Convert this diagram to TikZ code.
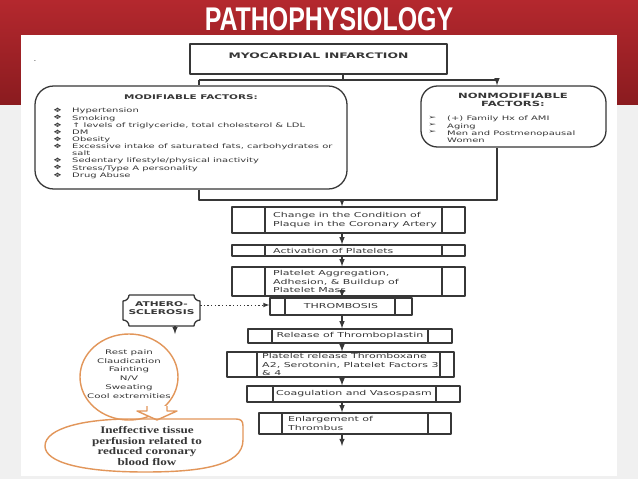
\documentclass[tikz,border=0pt]{standalone}
\usepackage{fontspec}
\setmainfont{DejaVu Sans}
\newfontfamily\txtfont[FakeStretch=1.62]{DejaVu Sans}
\newfontfamily\serfont[FakeStretch=1.3]{Liberation Serif}
\newfontfamily\ttlfont[FakeStretch=0.76]{Liberation Sans}
\usetikzlibrary{arrows,positioning,calc,fit}
\definecolor{slidered}{RGB}{180,40,46}
\definecolor{slidedark}{RGB}{138,27,31}
\definecolor{linegray}{RGB}{55,55,55}
\definecolor{peach}{RGB}{226,150,90}
\definecolor{panelgray}{RGB}{240,240,240}
\tikzset{
  box/.style={draw=linegray, line width=1.1pt},
  procbox/.style={box, inner sep=0pt},
  arr/.style={draw=linegray, line width=1.1pt, -latex},
  boxtext/.style={font=\txtfont\fontsize{5.8}{7.2}\selectfont, text=linegray, inner sep=0pt, align=left},
  listtext/.style={font=\txtfont\fontsize{5.25}{6.1}\selectfont, text=linegray, inner sep=0pt, align=left},
  headtext/.style={font=\txtfont\bfseries\fontsize{5.5}{6.8}\selectfont, text=linegray, inner sep=0pt, align=center},
  peachline/.style={draw=peach, line width=1.2pt}
}
\newcommand \mydrawproc[7]
{
\coordinate (#1a) at (#2,#3);
\coordinate (#1b) at (#4,#5);
\node[procbox, fit=(#1a)(#1b)] (#1) {};
\draw[box] (#6,#3)--(#6,#5);
\draw[box] (#7,#3)--(#7,#5);
}
\begin{document}
\begin{tikzpicture}[x=0.03cm, y=-0.03cm, line join=round]
\useasboundingbox (0,0) rectangle (638,479);
% slide background
\fill[panelgray] (0,0) rectangle (638,479);
\shade[top color=slidered, bottom color=slidedark] (0,0) rectangle (638,105);
\fill[white] (21,35) rectangle (617,476);
\node[font=\ttlfont\bfseries\fontsize{28}{28}\selectfont, text=white] (title) at (329,19) {PATHOPHYSIOLOGY};
\node[font=\tiny, text=linegray] (dash) at (35,62) {-};
% top of the chart
\coordinate (mia) at (190,44);
\coordinate (mib) at (447,74);
\node[procbox, fit=(mia)(mib), font=\txtfont\bfseries\fontsize{6.5}{7}\selectfont, text=linegray] (mi) {MYOCARDIAL INFARCTION};
\coordinate (moda) at (35,86);
\coordinate (modb) at (347,189);
\node[procbox, rounded corners=16pt, fit=(moda)(modb)] (mod) {};
\coordinate (nona) at (421,86);
\coordinate (nonb) at (606,147);
\node[procbox, rounded corners=14pt, fit=(nona)(nonb)] (non) {};
\coordinate (split) at (343,80);
\coordinate (join) at (343,200);
\coordinate (ml) at (199,80);
\coordinate (nl) at (497,80);
\draw[box] (mi.south -| split)--(split);
\draw[box] (ml)--(nl);
\draw[box] (ml)--(mod.north -| ml);
\draw[arr] (nl)--(non.north -| nl);
% modifiable factors
\node[headtext] (modhead) at (191,97) {MODIFIABLE FACTORS:};
\node[listtext, anchor=north west] (modbul) at (53,108) {❖\\❖\\❖\\❖\\❖\\❖\\\\❖\\❖\\❖};
\node[listtext, anchor=north west] (modlist) at (72,108) {Hypertension\\Smoking\\↑ levels of triglyceride, total cholesterol \& LDL\\DM\\Obesity\\Excessive intake of saturated fats, carbohydrates or\\salt\\Sedentary lifestyle/physical inactivity\\Stress/Type A personality\\Drug Abuse};
% nonmodifiable factors
\node[headtext, font=\txtfont\bfseries\fontsize{6.1}{7.2}\selectfont] (nonhead) at (513,100) {NONMODIFIABLE\\FACTORS:};
\node[listtext, anchor=north west] (nonbul) at (428,116) {➢\\➢\\➢};
\node[listtext, anchor=north west] (nonlist) at (447,116) {(+) Family Hx of AMI\\Aging\\Men and Postmenopausal\\Women};
\draw[box] (mod.south -| ml)--(join -| ml)--(join -| nl)--(non.south -| nl);
% cascade
\mydrawproc{chg}{232}{207}{465}{233}{265}{442}
\node[boxtext, anchor=west] (chgtxt) at (273,220) {Change in the Condition of\\Plaque in the Coronary Artery};
\mydrawproc{act}{232}{245}{465}{256}{265}{442}
\node[boxtext, anchor=west] (acttxt) at (273,250.5) {Activation of Platelets};
\mydrawproc{agg}{232}{267}{465}{296}{265}{442}
\node[boxtext, anchor=west] (aggtxt) at (273,281.5) {Platelet Aggregation,\\Adhesion, \& Buildup of\\Platelet Mass};
\mydrawproc{thr}{270}{298}{412}{315}{285}{395}
\node[boxtext] (thrtxt) at (341,306.5) {THROMBOSIS};
\mydrawproc{rel}{248}{329}{452}{343}{272}{428}
\node[boxtext] (reltxt) at (350,336) {Release of Thromboplastin};
\mydrawproc{plt}{227}{352}{454}{377}{257}{440}
\node[boxtext, anchor=west] (plttxt) at (262,364.5) {Platelet release Thromboxane\\A2, Serotonin, Platelet Factors 3\\\& 4};
\mydrawproc{coa}{247}{386}{460}{402}{273}{436}
\node[boxtext] (coatxt) at (354,394) {Coagulation and Vasospasm};
\mydrawproc{enl}{259}{413}{451}{434}{282}{428}
\node[boxtext, anchor=west] (enltxt) at (288,423.5) {Enlargement of\\Thrombus};
\coordinate (col) at (342,0);
\coordinate (lastend) at (342,446);
\draw[arr] (join -| col)--(chg.north -| col);
\draw[arr] (chg.south -| col)--(act.north -| col);
\draw[arr] (act.south -| col)--(agg.north -| col);
\draw[arr] (agg.south -| col)--(thr.north -| col);
\draw[arr] (thr.south -| col)--(rel.north -| col);
\draw[arr] (rel.south -| col)--(plt.north -| col);
\draw[arr] (plt.south -| col)--(coa.north -| col);
\draw[arr] (coa.south -| col)--(enl.north -| col);
\draw[arr] (enl.south -| col)--(lastend);
% atherosclerosis
\coordinate (atha) at (123,295);
\coordinate (athb) at (200,326);
\node[inner sep=0pt, fit=(atha)(athb), headtext, font=\txtfont\bfseries\fontsize{5.6}{7}\selectfont] (ath) {ATHERO-\\SCLEROSIS};
\draw[box] (129,295)--(194,295) arc (180:90:6)--(200,320) arc (270:180:6)
  --(129,326) arc (0:-90:6)--(123,301) arc (90:0:6);
\draw[arr, dotted, line width=0.8pt] (ath.east |- 0,305)--(thr.west |- 0,305);
\coordinate (athend) at (175,334);
\draw[arr] (ath.south -| athend)--(athend);
% symptoms
\draw[peachline] (129,377) ellipse [x radius=49, y radius=43];
\node[boxtext, align=center, font=\txtfont\fontsize{5.4}{7.6}\selectfont] (sym) at (129,374) {Rest pain\\Claudication\\Fainting\\N/V\\Sweating\\Cool extremities};
\draw[peachline, fill=white] (147,406)--(147,411)--(137,411)--(157,420)--(177,411)--(167,411)--(167,406);
% nursing diagnosis
\draw[peachline] (130,419)--(236,419) .. controls (241,419) and (243,421) .. (243,426)
  --(243,440) .. controls (243,466) and (200,472) .. (145,472)
  .. controls (80,472) and (45,462) .. (45,446)
  .. controls (45,428) and (85,419) .. (130,419);
\node[font=\serfont\bfseries\fontsize{8.6}{9.2}\selectfont, text=linegray, align=center] (ndx) at (147,446) {Ineffective tissue\\perfusion related to\\reduced coronary\\blood flow};
\end{tikzpicture}
\end{document}
